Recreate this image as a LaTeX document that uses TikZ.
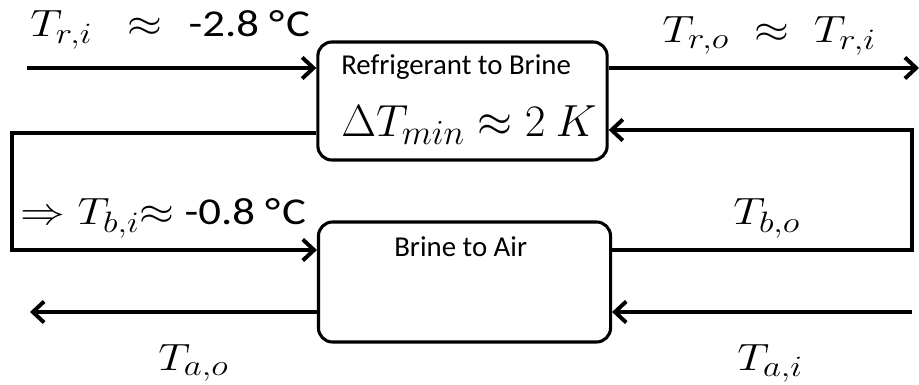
\RequirePackage{fix-cm}
\documentclass[tikz,border=0pt]{standalone}
\usepackage{fontspec}
\usepackage{graphicx}
\setmainfont{Carlito}
\DeclareMathSizes{27}{27}{21}{16}
\DeclareMathSizes{32}{32}{25}{18}
\newcommand{\widelbl}[1]{\scalebox{1.18}[1]{#1}}
\usetikzlibrary{arrows.meta}
\tikzset{
  hxbox/.style={draw, line width=2.2pt, rounded corners=10pt, inner sep=0pt},
  flow/.style={line width=2.8pt, -{Straight Barb[length=8pt,width=15pt]}},
  big/.style={font=\fontsize{27}{32}\selectfont, inner sep=0pt},
  huge/.style={font=\fontsize{32}{36}\selectfont, inner sep=0pt},
  small/.style={font=\fontsize{20.5}{24}\selectfont, inner sep=0pt}
}
\begin{document}
\begin{tikzpicture}[x=0.025cm, y=-0.025cm]
    \useasboundingbox (0,0) rectangle (919,385);
    % Heat exchangers
    \node[hxbox, minimum width=7.23cm, minimum height=2.95cm] (rtb) at (462.5,101) {};
    \node[hxbox, minimum width=7.3cm, minimum height=3cm] (bta) at (464.5,282) {};
    \node[small, anchor=base west] (rtbname) at (341,75) {Refrigerant to Brine};
    \node[huge, anchor=base west] (dtmin) at (341,137) {$\Delta T_{min} \approx 2\ K$};
    \node[small, anchor=base west] (btaname) at (394,257) {Brine to Air};
    % Refrigerant
    \coordinate (rin) at (27,68);
    \coordinate (rout) at (919,68);
    \draw[flow] (rin) -- (rin -| rtb.west);
    \draw[flow] (rtb.east |- rin) -- (rout);
    % Brine loop
    \coordinate (bl1) at (12,133);
    \coordinate (bl2) at (12,250);
    \coordinate (br1) at (912,250);
    \coordinate (br2) at (912,130);
    \draw[flow] (rtb.west |- bl1) -- (bl1) -- (bl2) -- (bl2 -| bta.west);
    \draw[flow] (bta.east |- br1) -- (br1) -- (br2) -- (br2 -| rtb.east);
    % Air
    \coordinate (ain) at (912,312);
    \coordinate (aout) at (30,312);
    \draw[flow] (ain) -- (ain -| bta.east);
    \draw[flow] (bta.west |- ain) -- (aout);
    % Temperatures
    \node[big, anchor=base west] (tri) at (30,37) {\widelbl{$T_{r,i}\mkern9mu\approx$\hspace{16pt}-2.8 °\kern1ptC}};
    \node[big, anchor=base west] (tro) at (662,43) {\widelbl{$T_{r,o}\;\approx\;T_{r,i}$}};
    \node[big, anchor=base west] (tbi) at (20,225) {\widelbl{$\Rightarrow T_{b,i}{\approx}$ -0.8 °\kern1ptC}};
    \node[big, anchor=base west] (tbo) at (733,225) {\widelbl{$T_{b,o}$}};
    \node[big, anchor=base west] (tao) at (158,370) {\widelbl{$T_{a,o}$}};
    \node[big, anchor=base west] (tai) at (737,370) {\widelbl{$T_{a,i}$}};
\end{tikzpicture}
\end{document}
